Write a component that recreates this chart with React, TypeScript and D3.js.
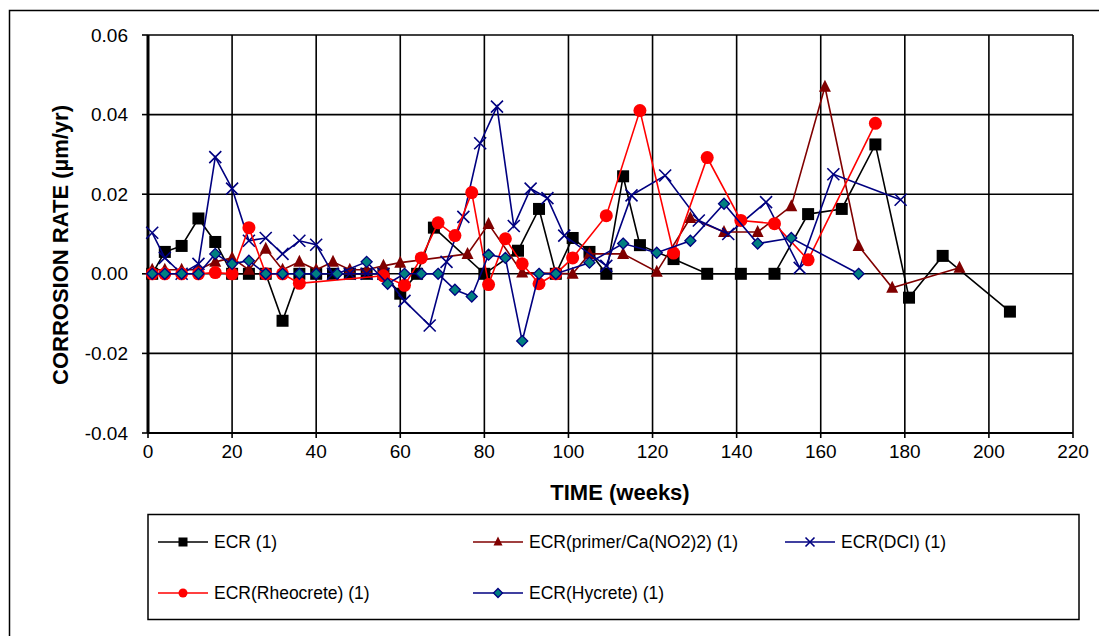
import * as d3 from 'd3';

// ---- data ----
const ecrWeeks = [1, 4, 8, 12, 16, 20, 24, 28, 32, 36, 40, 44, 48, 52, 56, 60, 64, 68, 80, 88, 93, 97, 101, 105, 109, 113, 117, 125, 133, 141, 149, 157, 165, 173, 181, 189, 205];
const ecrValues = [0, 0.0055, 0.007, 0.0139, 0.008, 0, 0, 0, -0.0118, 0, 0, 0, 0, 0, 0, -0.005, 0, 0.0116, 0, 0.0058, 0.0163, 0, 0.009, 0.0055, 0, 0.0245, 0.0072, 0.0037, 0, 0, 0, 0.015, 0.0163, 0.0325, -0.006, 0.0045, -0.0095];

const primerWeeks = [1, 4, 8, 12, 16, 20, 24, 28, 32, 36, 40, 44, 48, 52, 56, 60, 76, 81, 89, 101, 105, 113, 121, 129, 137, 145, 153, 161, 169, 177, 193];
const primerValues = [0.001, 0.001, 0.001, 0.001, 0.003, 0.004, 0.001, 0.0063, 0.001, 0.003, 0.001, 0.003, 0.001, 0.001, 0.002, 0.0028, 0.005, 0.0125, 0.0003, 0, 0.005, 0.005, 0.0005, 0.014, 0.0105, 0.0105, 0.017, 0.047, 0.007, -0.0035, 0.0015];

const dciWeeks = [1, 4, 8, 12, 16, 20, 24, 28, 32, 36, 40, 44, 48, 52, 56, 61, 67, 71, 75, 79, 83, 87, 91, 95, 99, 109, 115, 123, 131, 138, 147, 155, 163, 179];
const dciValues = [0.0103, 0.004, 0, 0.0025, 0.0293, 0.0214, 0.0083, 0.009, 0.005, 0.0083, 0.0073, 0, 0, 0, 0, -0.0068, -0.013, 0.003, 0.0143, 0.0328, 0.042, 0.012, 0.0214, 0.019, 0.0096, 0.002, 0.0197, 0.0247, 0.0134, 0.01, 0.018, 0.0015, 0.025, 0.0186];

const rheoWeeks = [1, 4, 8, 12, 16, 20, 24, 28, 32, 36, 56, 61, 65, 69, 73, 77, 81, 85, 89, 93, 97, 101, 109, 117, 125, 133, 141, 149, 157, 173];
const rheoValues = [0, 0, 0, 0, 0.0003, 0, 0.0116, 0, 0, -0.0024, -0.0005, -0.0029, 0.004, 0.0128, 0.0096, 0.0204, -0.0027, 0.0088, 0.0025, -0.0025, 0, 0.004, 0.0146, 0.041, 0.0052, 0.0292, 0.0134, 0.0126, 0.0035, 0.0378];

const hycreteWeeks = [1, 4, 8, 12, 16, 20, 24, 28, 32, 36, 40, 45, 52, 57, 61, 65, 69, 73, 77, 81, 85, 89, 93, 97, 105, 113, 121, 129, 137, 145, 153, 169];
const hycreteValues = [0, 0, 0, 0, 0.005, 0.0025, 0.0033, 0, 0, 0, 0, 0, 0.003, -0.0025, 0, 0, 0, -0.004, -0.0057, 0.0048, 0.004, -0.0169, 0, 0, 0.0028, 0.0076, 0.0053, 0.0083, 0.0176, 0.0076, 0.009, 0];

const xTicks = [0, 20, 40, 60, 80, 100, 120, 140, 160, 180, 200, 220];
const yTicks = [-0.04, -0.02, 0, 0.02, 0.04, 0.06];

const seriesNames = ['ECR (1)', 'ECR(primer/Ca(NO2)2) (1)', 'ECR(DCI) (1)', 'ECR(Rheocrete) (1)', 'ECR(Hycrete) (1)'];

type Marker = 'square' | 'triangle' | 'x' | 'circle' | 'diamond';

const series = [
  { name: seriesNames[0], weeks: ecrWeeks, values: ecrValues, color: '#000000', marker: 'square' as Marker },
  { name: seriesNames[1], weeks: primerWeeks, values: primerValues, color: '#800000', marker: 'triangle' as Marker },
  { name: seriesNames[2], weeks: dciWeeks, values: dciValues, color: '#000080', marker: 'x' as Marker },
  { name: seriesNames[3], weeks: rheoWeeks, values: rheoValues, color: '#FF0000', marker: 'circle' as Marker },
  { name: seriesNames[4], weeks: hycreteWeeks, values: hycreteValues, color: '#000080', marker: 'diamond' as Marker },
];

const W = 1099;
const H = 636;
const plot = { left: 148, right: 1073, top: 35, bottom: 433 };
const FONT = '"Liberation Sans", Arial, sans-serif';

const x = d3.scaleLinear().domain([0, 220]).range([plot.left, plot.right]);
const y = d3.scaleLinear().domain([-0.04, 0.06]).range([plot.bottom, plot.top]);

const drawMarker = (kind: Marker, cx: number, cy: number, s: number, color: string, key: any) => {
  const h = s / 2;
  if (kind === 'square') {
    return <rect key={key} x={cx - h} y={cy - h} width={s} height={s} fill="#000" />;
  }
  if (kind === 'triangle') {
    return <path key={key} d={`M${cx},${cy - h - 1}L${cx + h},${cy + h - 1}L${cx - h},${cy + h - 1}Z`} fill="#800000" />;
  }
  if (kind === 'x') {
    return (
      <path key={key} d={`M${cx - h},${cy - h}L${cx + h},${cy + h}M${cx - h},${cy + h}L${cx + h},${cy - h}`}
        stroke={color} strokeWidth={1.6} fill="none" />
    );
  }
  if (kind === 'circle') {
    return <circle key={key} cx={cx} cy={cy} r={h} fill="#FF0000" />;
  }
  return (
    <path key={key} d={`M${cx},${cy - h}L${cx + h},${cy}L${cx},${cy + h}L${cx - h},${cy}Z`}
      fill="#008080" stroke="#000080" strokeWidth={1.3} />
  );
};

const markerSize: Record<Marker, number> = { square: 12, triangle: 12, x: 12, circle: 13, diamond: 11 };

const App = () => {
  const line = d3.line<[number, number]>().x(d => x(d[0])).y(d => y(d[1]));

  const legendItems = [
    { s: series[0], lx: 158, row: 542 },
    { s: series[1], lx: 473, row: 542 },
    { s: series[2], lx: 785, row: 542 },
    { s: series[3], lx: 158, row: 593 },
    { s: series[4], lx: 473, row: 593 },
  ];

  return (
    <svg width={W} height={H} style={{ position: 'absolute', left: 0, top: 0, background: '#fff' }}
      fontFamily={FONT}>
      <rect x={0} y={0} width={W} height={H} fill="#fff" />
      {/* outer chart frame */}
      <rect x={9.5} y={10.5} width={1200} height={800} fill="none" stroke="#000" strokeWidth={1.5} />

      {/* grid */}
      {yTicks.map(t => (
        <line key={'gy' + t} x1={plot.left} x2={plot.right} y1={y(t)} y2={y(t)} stroke="#000" strokeWidth={1.6} />
      ))}
      {xTicks.map(t => (
        <line key={'gx' + t} x1={x(t)} x2={x(t)} y1={plot.top} y2={plot.bottom} stroke="#000" strokeWidth={1.6} />
      ))}
      {/* axes */}
      <line x1={plot.left} x2={plot.left} y1={plot.top} y2={plot.bottom} stroke="#000" strokeWidth={3} />
      <line x1={plot.left} x2={plot.right} y1={plot.bottom} y2={plot.bottom} stroke="#000" strokeWidth={2} />
      {yTicks.map(t => (
        <g key={'ty' + t}>
          <line x1={plot.left - 6} x2={plot.left} y1={y(t)} y2={y(t)} stroke="#000" strokeWidth={1.6} />
          <text x={128} y={y(t)} dy="0.35em" textAnchor="end" fontSize={19}>{t.toFixed(2)}</text>
        </g>
      ))}
      {xTicks.map(t => (
        <g key={'tx' + t}>
          <line x1={x(t)} x2={x(t)} y1={plot.bottom} y2={plot.bottom + 5} stroke="#000" strokeWidth={1.6} />
          <text x={x(t)} y={458} textAnchor="middle" fontSize={19}>{t}</text>
        </g>
      ))}

      {/* axis titles */}
      <text x={620} y={500} textAnchor="middle" fontSize={22} fontWeight="bold">TIME (weeks)</text>
      <text transform="translate(68,245) rotate(-90)" textAnchor="middle" fontSize={22} fontWeight="bold">
        CORROSION RATE (µm/yr)
      </text>

      {/* series */}
      {series.map((s, si) => {
        const pts = s.weeks.map((w, i) => [w, s.values[i]] as [number, number]);
        return (
          <g key={'s' + si}>
            <path d={line(pts) ?? ''} fill="none" stroke={s.color} strokeWidth={1.6} />
            {pts.map((p, i) => drawMarker(s.marker, x(p[0]), y(p[1]), markerSize[s.marker], s.color, i))}
          </g>
        );
      })}

      {/* legend */}
      <rect x={148} y={514.5} width={931} height={105} fill="#fff" stroke="#000" strokeWidth={1.5} />
      {legendItems.map((it, i) => (
        <g key={'lg' + i}>
          <line x1={it.lx} x2={it.lx + 50} y1={it.row} y2={it.row} stroke={it.s.color} strokeWidth={1.6} />
          {drawMarker(it.s.marker, it.lx + 25, it.row, 9, it.s.color, 'm')}
          <text x={it.lx + 56} y={it.row} dy="0.35em" fontSize={17.5}>{it.s.name}</text>
        </g>
      ))}
    </svg>
  );
};

export default App;
